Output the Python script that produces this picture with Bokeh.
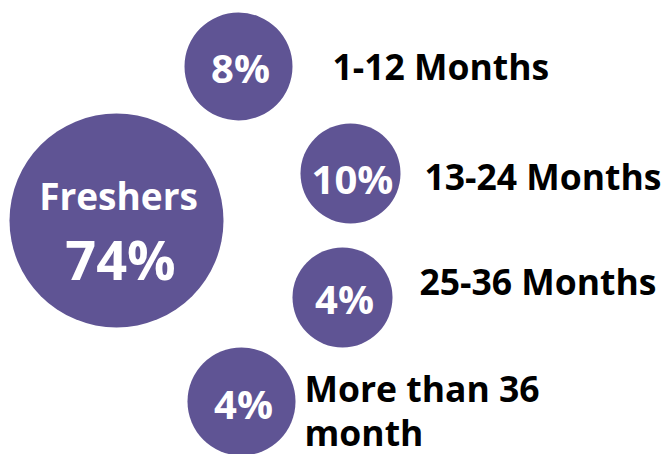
from bokeh.plotting import figure
from bokeh.models import Range1d, ColumnDataSource
from bokeh.core.properties import value
from bokeh.embed import file_html
from bokeh.resources import INLINE

# Data
categories = ["Freshers", "1-12 Months", "13-24 Months", "25-36 Months", "More than 36 month"]
shares = [74, 8, 10, 4, 4]
label_lines = [["Freshers"], ["1-12 Months"], ["13-24 Months"], ["25-36 Months"], ["More than 36", "month"]]

# Layout (infographic placement, pixels)
cx = [116, 238, 350, 342, 241]
cy = [220, 66, 173, 297, 401]
rad = [107, 54, 50, 50, 54]
pct_base = [273, 82, 193, 313, 418]
pct_size = ["54px", "40px", "40px", "40px", "40px"]
lab_x = [None, 332, 424, 419, 304]
lab_y = [None, 80, 190, 295, 402]
line_gap = 44
BASE_FIX = 15  # renderer's alphabetic baseline offset

PURPLE = "#5F5494"

p = figure(width=666, height=454, output_backend="svg", toolbar_location=None,
           x_range=Range1d(0, 666), y_range=Range1d(454, 0),
           min_border=0, outline_line_color=None)
p.axis.visible = False
p.grid.visible = False
p.background_fill_color = "white"
p.border_fill_color = "white"

src = ColumnDataSource(dict(x=cx, y=cy, r=rad))
p.circle(x="x", y="y", radius="r", source=src, fill_color=PURPLE, line_color=None)

# Percentage texts inside circles
for i, v in enumerate(shares):
    p.text(x=[cx[i] + (4 if i == 0 else 2)], y=[pct_base[i] - BASE_FIX], text=[f"{v}%"],
           text_font=value("Open Sans"), text_font_style="bold",
           text_font_size=pct_size[i], text_color="white",
           text_align="center", text_baseline="alphabetic")

# Freshers label inside big circle
p.text(x=[cx[0] + 2], y=[210 - BASE_FIX], text=[categories[0]],
       text_font=value("Open Sans"), text_font_style="bold",
       text_font_size="37px", text_color="white",
       text_align="center", text_baseline="alphabetic")

# Side labels
for i in range(1, len(categories)):
    for j, line in enumerate(label_lines[i]):
        p.text(x=[lab_x[i]], y=[lab_y[i] + j * line_gap - BASE_FIX], text=[line],
               text_font=value("Open Sans"), text_font_style="bold",
               text_font_size="35.5px", text_color="black",
               text_align="left", text_baseline="alphabetic")

open("out.html", "w").write(file_html(p, INLINE))
